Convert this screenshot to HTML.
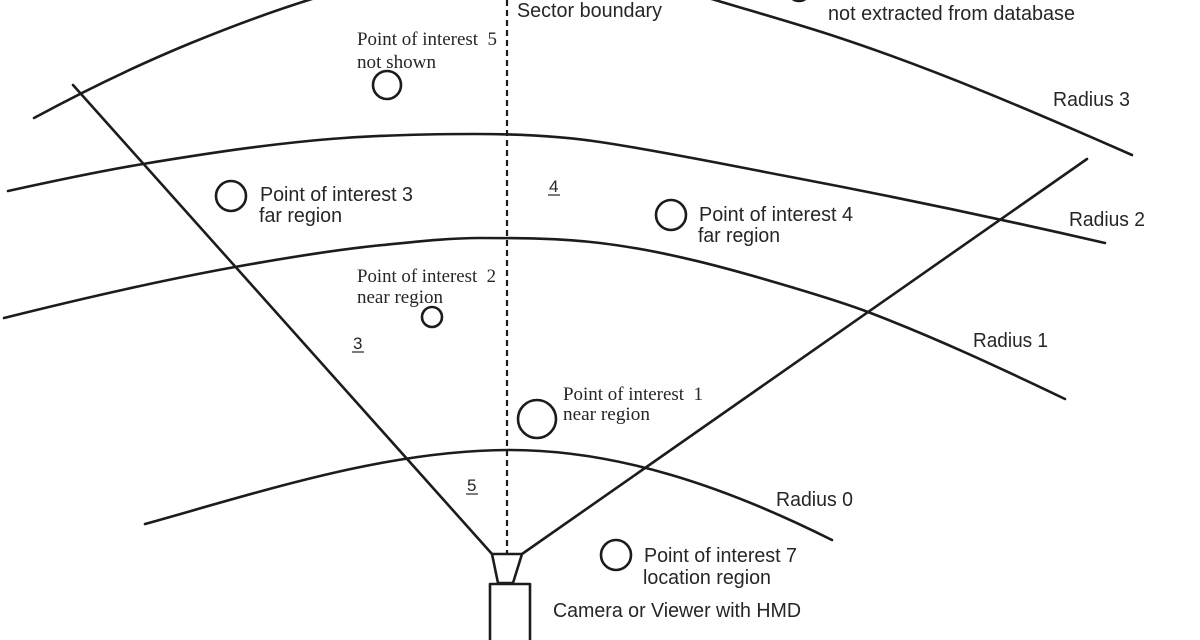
<!DOCTYPE html>
<html>
<head>
<meta charset="utf-8">
<style>
  html, body { margin: 0; padding: 0; background: #ffffff; }
  body { width: 1200px; height: 640px; overflow: hidden; }
  svg { display: block; }
  .sans { font-family: "Liberation Sans", "DejaVu Sans", sans-serif; font-size: 20px; fill: #262626; }
  .serif { font-family: "Liberation Serif", "DejaVu Serif", serif; font-size: 19px; fill: #262626; }
  .ln { fill: none; stroke: #1c1c1c; stroke-width: 2.6; stroke-linecap: round; stroke-linejoin: round; }
</style>
</head>
<body>
<svg width="1200" height="640" viewBox="0 0 1200 640" xmlns="http://www.w3.org/2000/svg">
  <rect x="0" y="0" width="1200" height="640" fill="#ffffff"/>

  <!-- Radius 3 -->
  <path class="ln" d="M34,118 C86.3,89.7 138.7,64.5 191,43 C304,-3.3 417,-38 530,-38 C591.7,-38 653.3,-18.5 715,0 C755.7,12.2 796.3,23.6 837,37 C935.3,69.4 1033.7,111.7 1132,155"/>
  <!-- Radius 2 -->
  <path class="ln" d="M8,191 C53,181.1 98,171.4 143,164 C210,152.9 277,142.7 344,138 C387.7,134.9 431.3,134 475,134 C516.7,134 558.3,135.7 600,142 C663.7,151.6 727.3,164.9 791,177 C895.7,196.9 1000.3,218.9 1105,243"/>
  <!-- Radius 1 -->
  <path class="ln" d="M4,318 C81,298.75 158,280.9 235,267 C284.3,258.1 333.7,249.9 383,245 C415.3,241.8 447.7,238 480,238 C520,238 560,238.2 600,243 C663.7,250.6 727.3,267.9 791,287 C816.7,294.7 842.3,302.2 868,312 C933.7,337 999.3,367.5 1065,399"/>
  <!-- Radius 0 -->
  <path class="ln" d="M145,524 C266.7,490 388.3,450 510,450 C617.3,450 724.7,486.3 832,540"/>

  <!-- Field of view lines -->
  <line class="ln" x1="73" y1="85" x2="492" y2="554"/>
  <line class="ln" x1="522" y1="554" x2="1087" y2="159"/>

  <!-- Sector boundary dashed -->
  <line x1="507" y1="0" x2="507" y2="554" stroke="#1c1c1c" stroke-width="2.2" stroke-dasharray="6 4"/>

  <!-- Camera -->
  <path class="ln" d="M492,554 L522,554 L513,583 L498,583 Z"/>
  <path class="ln" d="M490,648 L490,584 L530,584 L530,648"/>

  <!-- Points of interest circles -->
  <circle class="ln" cx="799" cy="-10" r="11"/>
  <circle class="ln" cx="387" cy="85" r="14"/>
  <circle class="ln" cx="231" cy="196" r="15"/>
  <circle class="ln" cx="671" cy="215" r="15"/>
  <circle class="ln" cx="432" cy="317" r="10"/>
  <circle class="ln" cx="537" cy="419" r="19"/>
  <circle class="ln" cx="616" cy="555" r="15"/>

  <!-- Labels: sans -->
  <text class="sans" x="517" y="17" textLength="145" lengthAdjust="spacingAndGlyphs">Sector boundary</text>
  <text class="sans" x="828" y="20" textLength="247" lengthAdjust="spacingAndGlyphs">not extracted from database</text>
  <text class="sans" x="1053" y="106" textLength="77" lengthAdjust="spacingAndGlyphs">Radius 3</text>
  <text class="sans" x="1069" y="226" textLength="76" lengthAdjust="spacingAndGlyphs">Radius 2</text>
  <text class="sans" x="973" y="347" textLength="75" lengthAdjust="spacingAndGlyphs">Radius 1</text>
  <text class="sans" x="776" y="506" textLength="77" lengthAdjust="spacingAndGlyphs">Radius 0</text>

  <text class="sans" x="260" y="201" textLength="153" lengthAdjust="spacingAndGlyphs">Point of interest 3</text>
  <text class="sans" x="259" y="222" textLength="83" lengthAdjust="spacingAndGlyphs">far region</text>

  <text class="sans" x="699" y="221" textLength="154" lengthAdjust="spacingAndGlyphs">Point of interest 4</text>
  <text class="sans" x="698" y="242" textLength="82" lengthAdjust="spacingAndGlyphs">far region</text>

  <text class="sans" x="644" y="562" textLength="153" lengthAdjust="spacingAndGlyphs">Point of interest 7</text>
  <text class="sans" x="643" y="584" textLength="128" lengthAdjust="spacingAndGlyphs">location region</text>

  <text class="sans" x="553" y="617" textLength="248" lengthAdjust="spacingAndGlyphs">Camera or Viewer with HMD</text>

  <!-- Region numbers (underlined) -->
  <text class="sans" x="549" y="192" style="font-size:17px">4</text>
  <line x1="548" y1="195" x2="560" y2="195" stroke="#262626" stroke-width="1.2"/>
  <text class="sans" x="353" y="349" style="font-size:17px">3</text>
  <line x1="352" y1="352" x2="364" y2="352" stroke="#262626" stroke-width="1.2"/>
  <text class="sans" x="467" y="491" style="font-size:17px">5</text>
  <line x1="466" y1="494" x2="478" y2="494" stroke="#262626" stroke-width="1.2"/>

  <!-- Labels: serif -->
  <text class="serif" x="357" y="45" textLength="140" lengthAdjust="spacingAndGlyphs" xml:space="preserve">Point of interest  5</text>
  <text class="serif" x="357" y="68" textLength="79" lengthAdjust="spacingAndGlyphs">not shown</text>

  <text class="serif" x="357" y="282" textLength="139" lengthAdjust="spacingAndGlyphs" xml:space="preserve">Point of interest  2</text>
  <text class="serif" x="357" y="303" textLength="86" lengthAdjust="spacingAndGlyphs">near region</text>

  <text class="serif" x="563" y="400" textLength="140" lengthAdjust="spacingAndGlyphs" xml:space="preserve">Point of interest  1</text>
  <text class="serif" x="563" y="420" textLength="87" lengthAdjust="spacingAndGlyphs">near region</text>
</svg>
</body>
</html>
